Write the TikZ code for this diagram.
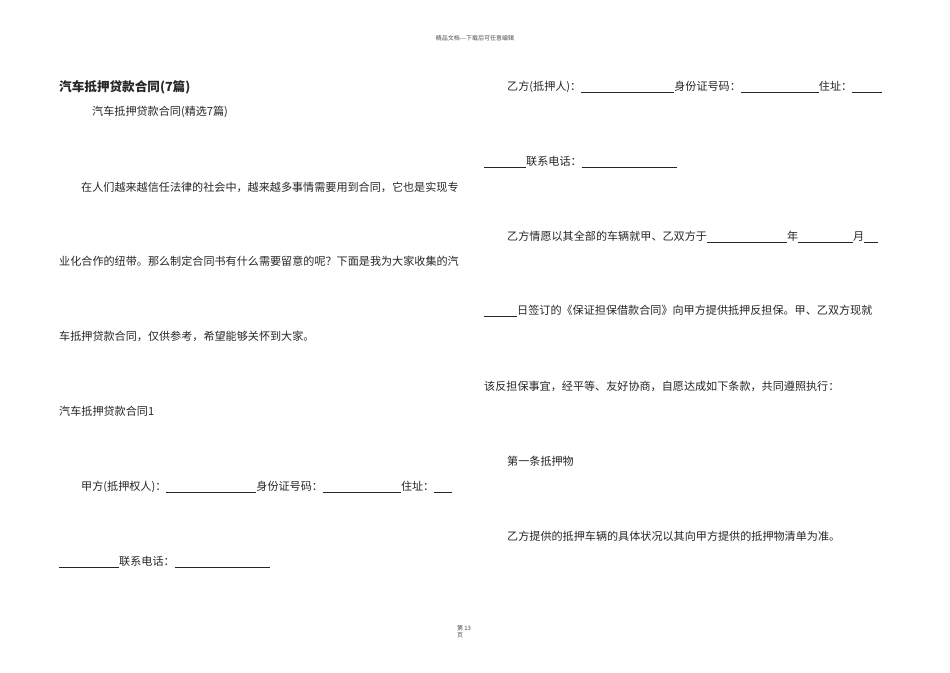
\documentclass[tikz,border=0pt]{standalone}
\usepackage{fontspec}
\newfontfamily\cjk{Noto Sans CJK SC}
\newcommand{\ul}[1]{\rule[-1.5pt]{#1pt}{0.5pt}}
\begin{document}
\begin{tikzpicture}[x=1pt,y=-1pt,
  txt/.style={anchor=west,inner sep=0pt,font=\cjk\fontsize{11.1}{13}\selectfont,text=black!85},
  small/.style={anchor=center,inner sep=0pt,font=\cjk\fontsize{6}{7}\selectfont,text=black!70,align=left}]
\useasboundingbox (0,0) rectangle (950,672);
\node[small] (hdr) at (475,38) {精品文档---下载后可任意编辑};
\node[small] (ftr) at (464,632) {第\ 13\\页};
\node[txt,font=\cjk\bfseries\fontsize{12.6}{14}\selectfont] (t) at (59,87) {汽车抵押贷款合同(7篇)};
\node[txt] (l1) at (92,112) {汽车抵押贷款合同(精选7篇)};
\node[txt] (l2) at (81,187) {在人们越来越信任法律的社会中，越来越多事情需要用到合同，它也是实现专};
\node[txt] (l3) at (59,261) {业化合作的纽带。那么制定合同书有什么需要留意的呢？下面是我为大家收集的汽};
\node[txt] (l4) at (59,336) {车抵押贷款合同，仅供参考，希望能够关怀到大家。};
\node[txt] (l5) at (59,411) {汽车抵押贷款合同1};
\node[txt] (l6) at (81,487) {甲方(抵押权人)：\ul{90}身份证号码：\ul{78}住址：\ul{18}};
\node[txt] (l7) at (59,562) {\ul{60}联系电话：\ul{95}};
\node[txt] (r1) at (507,87) {乙方(抵押人)：\ul{93}身份证号码：\ul{78}住址：\ul{30}};
\node[txt] (r2) at (484,162) {\ul{42}联系电话：\ul{95}};
\node[txt] (r3) at (507,237) {乙方情愿以其全部的车辆就甲、乙双方于\ul{80}年\ul{55}月\ul{14}};
\node[txt] (r4) at (484,311) {\ul{33}日签订的《保证担保借款合同》向甲方提供抵押反担保。甲、乙双方现就};
\node[txt] (r5) at (484,386) {该反担保事宜，经平等、友好协商，自愿达成如下条款，共同遵照执行：};
\node[txt] (r6) at (507,461) {第一条抵押物};
\node[txt] (r7) at (507,536) {乙方提供的抵押车辆的具体状况以其向甲方提供的抵押物清单为准。};
\end{tikzpicture}
\end{document}
